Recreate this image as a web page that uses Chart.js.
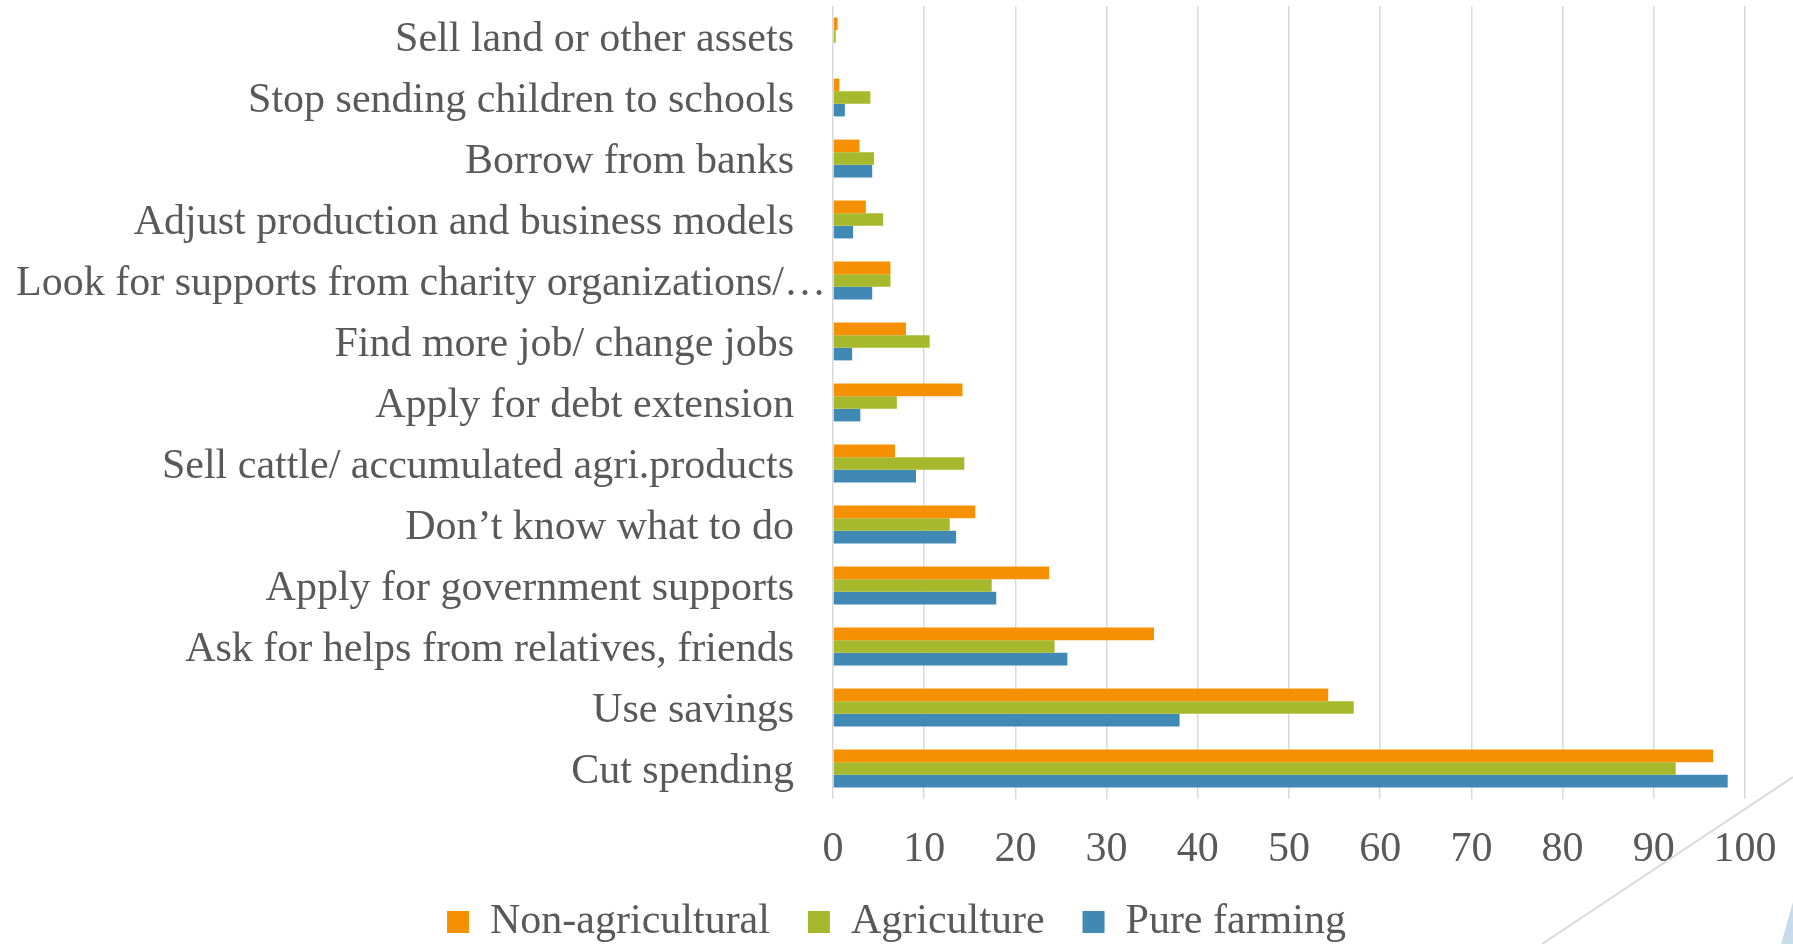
<!DOCTYPE html>
<html lang="en">
<head>
    <meta charset="UTF-8">
    <title>Coping strategies</title>
    <style>
        body { margin: 0; background: #ffffff; }
        canvas { display: block; }
    </style>
</head>
<body>
    <canvas id="chart" width="1793" height="944"></canvas>

    <script src="https://cdn.jsdelivr.net/npm/chart.js"></script>
    <script>
    const categories = [
        'Sell land or other assets',
        'Stop sending children to schools',
        'Borrow from banks',
        'Adjust production and business models',
        'Look for supports from charity organizations/\u2026',
        'Find more job/ change jobs',
        'Apply for debt extension',
        'Sell cattle/ accumulated agri.products',
        'Don\u2019t know what to do',
        'Apply for government supports',
        'Ask for helps from relatives, friends',
        'Use savings',
        'Cut spending'
    ];
    const nonAgricultural = [0.5, 0.7, 2.9, 3.6, 6.3, 8.0, 14.2, 6.8, 15.6, 23.7, 35.2, 54.3, 96.5];
    const agriculture     = [0.3, 4.1, 4.5, 5.5, 6.3, 10.6, 7.0, 14.4, 12.8, 17.4, 24.3, 57.1, 92.4];
    const pureFarming     = [0, 1.3, 4.3, 2.2, 4.3, 2.1, 3.0, 9.1, 13.5, 17.9, 25.7, 38.0, 98.1];
    const xTicks = [0, 10, 20, 30, 40, 50, 60, 70, 80, 90, 100];

    const textColor = '#595959';
    const serif = '"Liberation Serif", "Times New Roman", serif';

    // category labels drawn by hand so the long one can overflow like in Excel
    const categoryLabels = {
        id: 'categoryLabels',
        afterDraw(chart) {
            const { ctx, chartArea, scales: { y } } = chart;
            ctx.save();
            ctx.font = '42px ' + serif;
            ctx.fillStyle = textColor;
            ctx.textBaseline = 'middle';
            const right = chartArea.left - 39;
            categories.forEach((label, i) => {
                const yPos = y.getPixelForValue(i) + 3;
                const w = ctx.measureText(label).width;
                if (w > right - 16) {
                    ctx.textAlign = 'left';
                    ctx.fillText(label, 16, yPos);
                } else {
                    ctx.textAlign = 'right';
                    ctx.fillText(label, right, yPos);
                }
            });

            // slide decoration in the corner
            ctx.strokeStyle = '#d9d9d9';
            ctx.lineWidth = 2;
            ctx.beginPath();
            ctx.moveTo(1793, 777);
            ctx.lineTo(1542, 944);
            ctx.stroke();
            ctx.fillStyle = '#c6dcea';
            ctx.beginPath();
            ctx.moveTo(1781, 944);
            ctx.lineTo(1793, 902);
            ctx.lineTo(1793, 944);
            ctx.closePath();
            ctx.fill();
            ctx.restore();
        }
    };

    Chart.defaults.font.family = serif;
    Chart.defaults.color = textColor;

    new Chart(document.getElementById('chart'), {
        type: 'bar',
        data: {
            labels: categories,
            datasets: [
                { label: 'Non-agricultural', data: nonAgricultural, backgroundColor: '#f59100' },
                { label: 'Agriculture', data: agriculture, backgroundColor: '#a6b82b' },
                { label: 'Pure farming', data: pureFarming, backgroundColor: '#3f89b4' }
            ]
        },
        options: {
            indexAxis: 'y',
            responsive: false,
            animation: false,
            categoryPercentage: 0.62,
            barPercentage: 1.0,
            layout: { padding: { top: 6, right: 0, bottom: -9, left: 0 } },
            scales: {
                x: {
                    min: 0,
                    max: 100,
                    afterBuildTicks(scale) {
                        scale.ticks = xTicks.map(v => ({ value: v }));
                    },
                    // tick text sits lower than the box height would allow;
                    // right gap kept on the axis so the legend stays centred on the page
                    afterFit(scale) {
                        scale.height = 64;
                        scale.paddingRight = 48;
                    },
                    grid: { color: '#d9d9d9', lineWidth: 1.5, drawTicks: false },
                    border: { display: false },
                    ticks: {
                        padding: 0,
                        color: textColor,
                        font: { size: 42, lineHeight: '102px' }
                    }
                },
                y: {
                    grid: { display: false },
                    border: { display: false },
                    ticks: { display: false },
                    afterFit(scale) { scale.width = 833; }
                }
            },
            plugins: {
                legend: {
                    position: 'bottom',
                    labels: {
                        boxWidth: 22,
                        boxHeight: 22,
                        padding: 38,
                        color: textColor,
                        font: { size: 42, lineHeight: 1 }
                    }
                },
                tooltip: { enabled: false }
            }
        },
        plugins: [categoryLabels]
    });
    </script>
</body>
</html>
